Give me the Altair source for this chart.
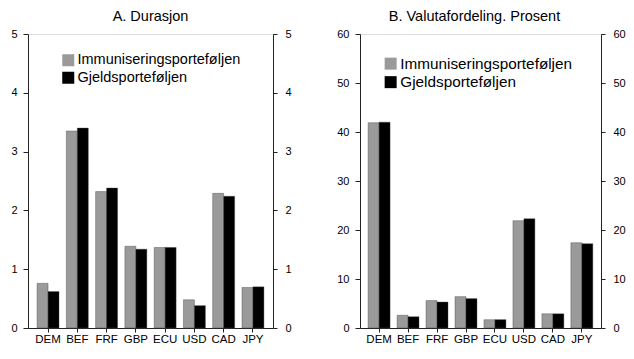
import altair as alt
import pandas as pd

currencies = ["DEM", "BEF", "FRF", "GBP", "ECU", "USD", "CAD", "JPY"]
series = ["Immuniseringsporteføljen", "Gjeldsporteføljen"]

dur_immun = [0.76, 3.35, 2.32, 1.39, 1.37, 0.48, 2.29, 0.69]
dur_gjeld = [0.62, 3.40, 2.38, 1.34, 1.37, 0.38, 2.24, 0.70]

val_immun = [41.9, 2.6, 5.6, 6.4, 1.7, 21.9, 2.9, 17.4]
val_gjeld = [42.0, 2.3, 5.3, 6.0, 1.7, 22.3, 2.9, 17.2]

dur_ticks = [0, 1, 2, 3, 4, 5]
val_ticks = [0, 10, 20, 30, 40, 50, 60]

FONT = "Liberation Sans"
COLORS = ["#9a9a9a", "#000000"]


def make_df(a, b):
    rows = []
    for c, v in zip(currencies, a):
        rows.append({"Valuta": c, "Serie": series[0], "Verdi": v})
    for c, v in zip(currencies, b):
        rows.append({"Valuta": c, "Serie": series[1], "Verdi": v})
    return pd.DataFrame(rows)


def panel(df, title, ticks, w, h, pin, pout, legx, legy, legfont, tdx):
    ymax = ticks[-1]
    x = alt.X("Valuta:N", sort=currencies,
              scale=alt.Scale(paddingInner=pin, paddingOuter=pout),
              axis=alt.Axis(title=None, labelAngle=0, labelFont=FONT, labelFontSize=11.5,
                            labelColor="black", tickSize=4, tickColor="#222",
                            domainColor="#222", labelPadding=1))
    yscale = alt.Scale(domain=[0, ymax], nice=False)
    bars = alt.Chart(df).mark_bar(stroke="#444", strokeWidth=0.4).encode(
        x=x,
        xOffset=alt.XOffset("Serie:N", sort=series,
                            scale=alt.Scale(paddingInner=0, paddingOuter=0)),
        y=alt.Y("Verdi:Q", scale=yscale,
                axis=alt.Axis(orient="left", values=ticks, grid=False, title=None,
                              labelFont=FONT, labelFontSize=11, labelColor="black",
                              tickSize=5, labelPadding=6, tickColor="#222",
                              domainColor="#222")),
        color=alt.Color("Serie:N", sort=series,
                        scale=alt.Scale(domain=series, range=COLORS),
                        legend=alt.Legend(title=None, orient="none", legendX=legx,
                                          legendY=legy, symbolType="square",
                                          symbolSize=144, symbolStrokeWidth=0,
                                          symbolOpacity=1, labelLimit=0,
                                          labelFont=FONT, labelFontSize=legfont,
                                          labelColor="black", labelOffset=2,
                                          rowPadding=2.5, padding=0)),
    )
    right = alt.Chart(df).mark_point(opacity=0).encode(
        x=alt.X("Valuta:N", sort=currencies),
        y=alt.Y("Verdi:Q", scale=yscale,
                axis=alt.Axis(orient="right", values=ticks, grid=False, title=None,
                              labelFont=FONT, labelFontSize=11, labelColor="black",
                              tickSize=4, labelPadding=8, tickColor="#222",
                              domainColor="#222")),
    )
    return alt.layer(bars, right).resolve_axis(y="independent").properties(
        width=w, height=h,
        title=alt.TitleParams(title, font=FONT, fontSize=14.5, fontWeight="normal",
                              color="black", anchor="middle", offset=4, dx=tdx),
    )


p1 = panel(make_df(dur_immun, dur_gjeld), "A. Durasjon", dur_ticks, 245, 294,
           0.25, 0.31, 33, 19, 14.5, 0)
p2 = panel(make_df(val_immun, val_gjeld), "B. Valutafordeling. Prosent", val_ticks,
           241, 294, 0.24, 0.28, 23, 22, 15.3, -6)

chart = alt.hconcat(p1, p2, spacing=44).resolve_scale(color="independent").resolve_legend(
    color="independent"
).properties(
    padding={"left": 2, "top": 0, "right": 0, "bottom": 0}
).configure_view(stroke="#333", strokeWidth=1).configure(background="white")

chart.save("out.html", embed_options={"renderer": "svg", "actions": False})
